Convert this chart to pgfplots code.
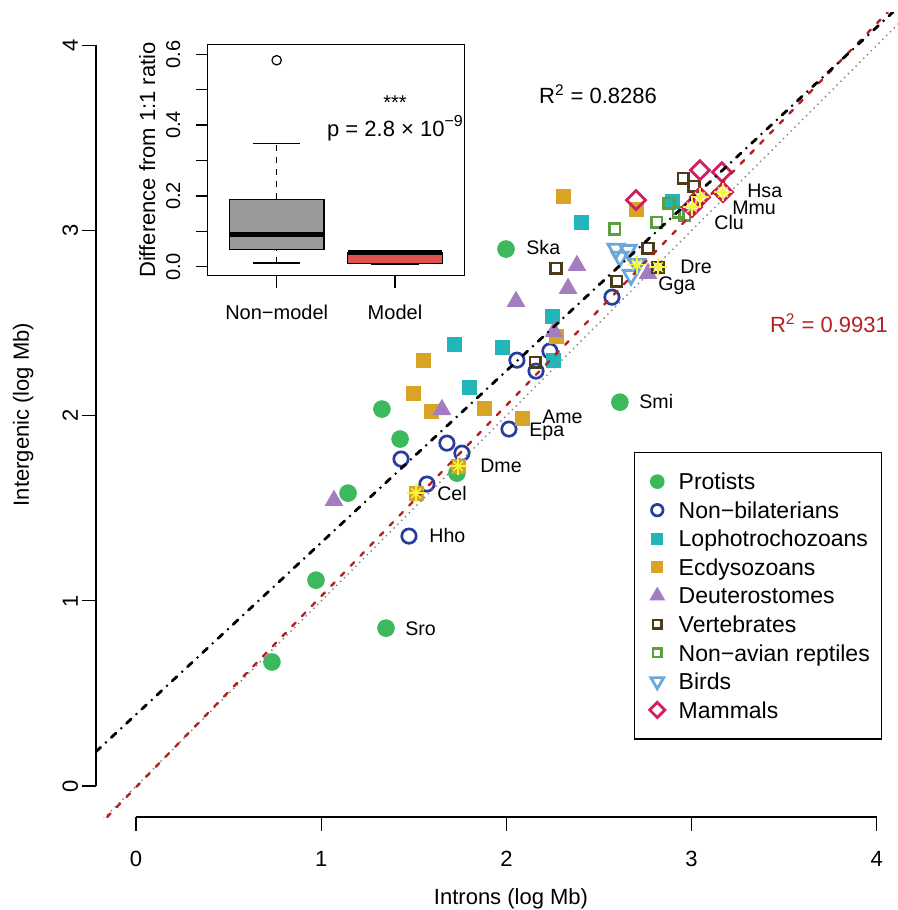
\documentclass[border=0pt]{standalone}
\usepackage{fontspec}
\setmainfont{Liberation Sans}
\usepackage{pgfplots}
\pgfplotsset{compat=1.18}
\usepgfplotslibrary{statistics}

\definecolor{cProt}{HTML}{3CB95C}
\definecolor{cNbil}{HTML}{283C9C}
\definecolor{cLoph}{HTML}{22B5BA}
\definecolor{cEcdy}{HTML}{D9A326}
\definecolor{cDeut}{HTML}{A47DC0}
\definecolor{cVert}{HTML}{4D3B1A}
\definecolor{cRept}{HTML}{5B9E3E}
\definecolor{cBird}{HTML}{6AA8DC}
\definecolor{cMamm}{HTML}{D11F63}
\definecolor{cStar}{HTML}{F5F53A}
\definecolor{cRed}{HTML}{B22222}
\definecolor{cBoxGray}{HTML}{999999}
\definecolor{cBoxRed}{HTML}{E05252}

\tikzset{lbl/.style={anchor=west, inner sep=0pt, text height=7pt, text depth=0pt, font=\fontsize{9.8}{11}\selectfont}}

\begin{document}
\fontsize{11}{13}\selectfont
\begin{tikzpicture}
\useasboundingbox (0,0) rectangle (449pt,-455pt);

% main scatter
\begin{axis}[
  at={(48pt,-408.5pt)}, anchor=south west,
  scale only axis, width=415pt, height=402.5pt,
  xmin=-0.216, xmax=4.266, ymin=-0.167, ymax=4.18,
  clip mode=individual,
  axis line style={draw=none},
  tick pos=left, tick align=outside, major tick length=7pt,
  tick style={black, line width=0.6pt},
  xtick={0,1,2,3,4}, ytick={0,1,2,3,4},
  /pgf/number format/assume math mode=true,
  xticklabel style={anchor=base, inner sep=0pt, yshift=-17.5pt},
  yticklabel style={xshift=-2pt, rotate=90, anchor=base, inner sep=0pt},
  xlabel={Introns (log Mb)}, ylabel={Intergenic (log Mb)},
  every axis x label/.style={at={(axis description cs:0.5,0)}, yshift=-43.5pt, anchor=base},
  every axis y label/.style={at={(axis description cs:0,0.5)}, xshift=-33.5pt, rotate=90, anchor=base},
  legend cell align=left,
  legend style={at={(axis description cs:0.947,0.4534)}, anchor=north east,
    draw=black, line width=0.6pt, fill=white,
    inner xsep=5.8pt, inner ysep=10.4pt, row sep=6.07pt,
    font=\fontsize{11.5}{13}\selectfont,
    nodes={inner sep=0pt, text height=8.2pt, text depth=0pt},
    /tikz/every odd column/.append style={column sep=5.2pt}},
  legend image code/.code={\path[draw=none, fill=none] (0pt,-3pt) rectangle (11pt,3pt);
    \draw[mark repeat=2,mark phase=2] plot coordinates {(0pt,0pt) (5.5pt,0pt) (11pt,0pt)};},
  legend image post style={/tikz/every mark/.append style={scale=0.8}},
]

\addplot[only marks, mark=*, mark size=4.2pt, color=cProt, mark options={fill=cProt, draw=none}]
  coordinates {(0.734,0.670) (0.972,1.112) (1.145,1.582) (1.328,2.036) (1.426,1.874)
               (1.350,0.853) (1.733,1.690) (1.998,2.900) (2.613,2.073)};
\addlegendentry{Protists}

\addplot[only marks, mark=o, mark size=3.6pt, color=cNbil, mark options={line width=1.35pt}]
  coordinates {(1.474,1.350) (1.571,1.631) (1.431,1.766) (1.679,1.852) (1.760,1.798)
               (2.014,1.928) (2.057,2.300) (2.160,2.241) (2.235,2.349) (2.570,2.640)};
\addlegendentry{Non−bilaterians}

\addplot[only marks, mark=square*, mark size=3.5pt, color=cLoph, mark options={fill=cLoph, draw=none}]
  coordinates {(1.722,2.387) (1.976,2.370) (1.798,2.154) (2.246,2.538) (2.252,2.300)
               (2.403,3.045) (2.894,3.159)};
\addlegendentry{Lophotrochozoans}

\addplot[only marks, mark=square*, mark size=3.5pt, color=cEcdy, mark options={fill=cEcdy, draw=none}]
  coordinates {(2.306,3.186) (2.700,3.116) (1.550,2.300) (1.496,2.122) (1.593,2.025)
               (1.879,2.041) (2.084,1.987) (2.268,2.430) (1.739,1.728) (1.512,1.582)};
\addlegendentry{Ecdysozoans}

\addplot[only marks, mark=triangle*, mark size=5pt, color=cDeut, mark options={fill=cDeut, draw=none}]
  coordinates {(1.069,1.542) (1.652,2.033) (2.052,2.617) (2.257,2.455) (2.333,2.687)
               (2.381,2.811) (2.765,2.768)};
\addlegendentry{Deuterostomes}

\addplot[only marks, mark=square, mark size=2.65pt, color=cVert, mark options={line width=1.25pt}]
  coordinates {(2.268,2.797) (2.155,2.289) (2.597,2.727) (2.765,2.905) (2.819,2.802)
               (2.954,3.283) (3.013,3.240)};
\addlegendentry{Vertebrates}

\addplot[only marks, mark=square, mark size=2.65pt, color=cRept, mark options={line width=1.25pt}]
  coordinates {(2.586,3.008) (2.813,3.045) (2.878,3.148) (2.927,3.099) (2.964,3.083)};
\addlegendentry{Non−avian reptiles}

\addplot[only marks, mark=triangle, mark size=4.6pt, color=cBird, mark options={rotate=180, line width=1.4pt}]
  coordinates {(2.592,2.901) (2.657,2.895) (2.613,2.858) (2.705,2.818) (2.673,2.760)};
\addlegendentry{Birds}

\addplot[only marks, mark=square, mark size=3.35pt, color=cMamm, mark options={rotate=45, line width=1.4pt}]
  coordinates {(2.700,3.164) (3.045,3.326) (3.164,3.315) (3.045,3.180) (3.002,3.126) (3.170,3.207)};
\addlegendentry{Mammals}

% fitted lines and 1:1 line
\addplot[forget plot, gray, line width=0.7pt, dotted] coordinates {(-0.3,-0.3) (4.4,4.4)};
\addplot[forget plot, cRed, line width=1.2pt, line cap=round, dash pattern=on 2.4pt off 4.6pt]
  coordinates {(-0.156,-0.167) (4.060,4.180)};
\addplot[forget plot, black, line width=1.4pt, line cap=round, dash pattern=on 3.2pt off 3.6pt on 0pt off 3.6pt]
  coordinates {(-0.216,0.186) (4.088,4.180)};

% model organisms
\addplot[forget plot, only marks, mark=+, mark size=4.5pt, color=cStar, mark options={line width=0.7pt}]
  coordinates {(1.512,1.582) (1.739,1.728) (2.705,2.815) (2.819,2.802) (3.045,3.180) (3.002,3.126) (3.170,3.207)};
\addplot[forget plot, only marks, mark=x, mark size=3.4pt, color=cStar, mark options={line width=0.7pt}]
  coordinates {(1.512,1.582) (1.739,1.728) (2.705,2.815) (2.819,2.802) (3.045,3.180) (3.002,3.126) (3.170,3.207)};

% axis lines as drawn by R
\draw[line width=0.6pt] (axis cs:0,-0.167) -- (axis cs:4,-0.167);
\draw[line width=0.6pt] (axis cs:-0.216,0) -- (axis cs:-0.216,4);

% species labels
\node[lbl] at (axis cs:3.299,3.218) {Hsa};
\node[lbl] at (axis cs:3.218,3.126) {Mmu};
\node[lbl] at (axis cs:3.121,3.045) {Clu};
\node[lbl] at (axis cs:2.937,2.808) {Dre};
\node[lbl] at (axis cs:2.818,2.716) {Gga};
\node[lbl] at (axis cs:2.106,2.910) {Ska};
\node[lbl] at (axis cs:2.716,2.079) {Smi};
\node[lbl] at (axis cs:2.192,1.998) {Ame};
\node[lbl] at (axis cs:2.122,1.928) {Epa};
\node[lbl] at (axis cs:1.857,1.733) {Dme};
\node[lbl] at (axis cs:1.625,1.582) {Cel};
\node[lbl] at (axis cs:1.582,1.355) {Hho};
\node[lbl] at (axis cs:1.452,0.853) {Sro};

\node[inner sep=0pt, text height=8pt, text depth=0pt] at (axis cs:2.495,3.731) {R\textsuperscript{2} = 0.8286};
\node[inner sep=0pt, text height=8pt, text depth=0pt, text=cRed] at (axis cs:3.742,2.492) {R\textsuperscript{2} = 0.9931};
\end{axis}

% inset boxplot
\begin{axis}[
  at={(103.85pt,-137.85pt)}, anchor=south west,
  scale only axis, width=128.3pt, height=115.7pt,
  xmin=0.417, xmax=2.586, ymin=-0.025, ymax=0.628,
  axis background/.style={fill=white},
  axis line style={line width=0.65pt},
  tick pos=left, tick align=outside, major tick length=6pt,
  tick style={black, line width=0.6pt},
  xtick={1,2}, xticklabels={Non−model, Model},
  ytick={0,0.1,0.2,0.3,0.4,0.5,0.6}, yticklabels={0.0,,0.2,,0.4,,0.6},
  tick label style={font=\fontsize{10}{12}\selectfont},
  label style={font=\fontsize{10}{12}\selectfont},
  xticklabel style={anchor=base, inner sep=0pt, yshift=-15.8pt},
  yticklabel style={xshift=-7.85pt, rotate=90, anchor=base, inner sep=0pt},
  ylabel={Difference from 1:1 ratio},
  every axis y label/.style={at={(axis description cs:0,0.5)}, xshift=-26.3pt, rotate=90, anchor=base},
  boxplot/draw direction=y,
  boxplot/every median/.style={line width=2.4pt},
  boxplot/draw/lower whisker/.code={
    \draw[/pgfplots/boxplot/every whisker/.try, dashed]
      (boxplot box cs:\pgfplotsboxplotvalue{lower whisker},0.5) -- (boxplot box cs:\pgfplotsboxplotvalue{lower quartile},0.5);
    \draw[/pgfplots/boxplot/every whisker/.try]
      (boxplot whisker cs:\pgfplotsboxplotvalue{lower whisker},0) -- (boxplot whisker cs:\pgfplotsboxplotvalue{lower whisker},1);
  },
  boxplot/draw/upper whisker/.code={
    \draw[/pgfplots/boxplot/every whisker/.try, dashed]
      (boxplot box cs:\pgfplotsboxplotvalue{upper quartile},0.5) -- (boxplot box cs:\pgfplotsboxplotvalue{upper whisker},0.5);
    \draw[/pgfplots/boxplot/every whisker/.try]
      (boxplot whisker cs:\pgfplotsboxplotvalue{upper whisker},0) -- (boxplot whisker cs:\pgfplotsboxplotvalue{upper whisker},1);
  },
]
\addplot[black, solid, line width=0.6pt, mark=o, mark size=2.35pt,
  boxplot/every box/.style={draw=black, fill=cBoxGray},
  boxplot prepared={lower whisker=0.011, lower quartile=0.049, median=0.092,
    upper quartile=0.191, upper whisker=0.348, draw position=1,
    box extend=0.8, whisker extend=0.4}]
  coordinates {(0,0.583)};
\addplot[black, solid, line width=0.6pt,
  boxplot/every box/.style={draw=black, fill=cBoxRed},
  boxplot prepared={lower whisker=0.007, lower quartile=0.009, median=0.040,
    upper quartile=0.0415, upper whisker=0.044, draw position=2,
    box extend=0.8, whisker extend=0.4}]
  coordinates {};
\node[anchor=base, inner sep=0pt, font=\fontsize{10}{12}\selectfont] at (axis cs:2,0.443) {***};
\node[anchor=base, inner sep=0pt, font=\fontsize{11}{13}\selectfont] at (axis cs:2,0.369)
  {p = 2.8 × 10\raisebox{0.8ex}{\fontsize{8}{9}\selectfont −9}};
\end{axis}
\end{tikzpicture}
\end{document}
